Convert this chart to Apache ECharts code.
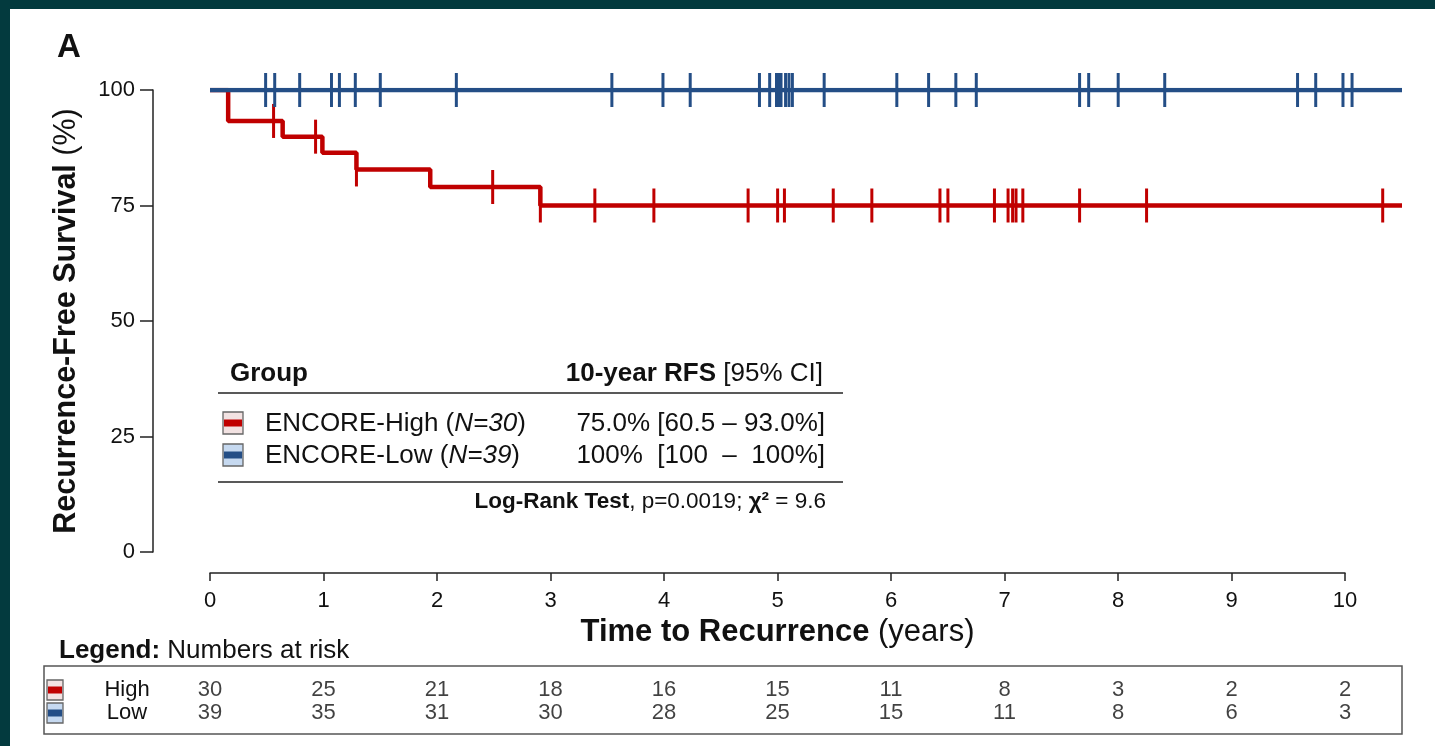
<!DOCTYPE html>
<html>
<head>
<meta charset="utf-8">
<script src="https://cdn.jsdelivr.net/npm/echarts@6/dist/echarts.min.js"></script>
<style>
  html, body { margin: 0; padding: 0; background: #fff; }
  #chart { width: 1435px; height: 746px; }
</style>
</head>
<body>
<div id="chart"></div>
<script>
var FONT = '"Liberation Sans", Arial, sans-serif';
var RED = '#C00000';
var BLUE = '#244E86';

// Kaplan-Meier steps: time (years) and survival (%) after that time
var highTimes = [0, 0.16, 0.64, 0.99, 1.29, 1.94, 2.91, 10.5];
var highSurv = [100, 93.3, 89.9, 86.4, 82.8, 79.0, 75.0, 75.0];
var lowTimes = [0, 10.5];
var lowSurv = [100, 100];

// censored observations (years)
var highCensor = [0.56, 0.93, 1.29, 2.49, 2.91, 3.39, 3.91, 4.74, 5.00, 5.06, 5.49, 5.83,
  6.43, 6.50, 6.91, 7.03, 7.07, 7.10, 7.16, 7.66, 8.25, 10.33];
var lowCensor = [0.49, 0.57, 0.79, 1.07, 1.14, 1.28, 1.50, 2.17, 3.54, 3.99, 4.23, 4.84,
  4.93, 4.99, 5.01, 5.03, 5.07, 5.10, 5.13, 5.41, 6.05, 6.33, 6.57, 6.75, 7.66, 7.74,
  8.00, 8.41, 9.58, 9.74, 9.98, 10.06];

// numbers at risk
var riskTimes = [0, 1, 2, 3, 4, 5, 6, 7, 8, 9, 10];
var riskHigh = [30, 25, 21, 18, 16, 15, 11, 8, 3, 2, 2];
var riskLow = [39, 35, 31, 30, 28, 25, 15, 11, 8, 6, 3];

var yTicks = [0, 25, 50, 75, 100];

function stepData(times, surv) {
  return times.map(function (t, i) { return [t, surv[i]]; });
}

function survAt(times, surv, t) {
  var v = surv[0];
  for (var i = 0; i < times.length; i++) {
    if (times[i] <= t) v = surv[i];
  }
  return v;
}

function censorData(cens, times, surv) {
  return cens.map(function (t) { return [t, survAt(times, surv, t)]; });
}

function riskData(vals, row) {
  return vals.map(function (n, i) { return [riskTimes[i], row, n]; });
}

// legend icon: light box with a dark band through the middle
function icon(x, y, w, h, light, dark) {
  return [
    { type: 'rect', shape: { x: x, y: y, width: w, height: h },
      style: { fill: light, stroke: '#666', lineWidth: 1.3 } },
    { type: 'rect', shape: { x: x + 1, y: y + h / 2 - 3.5, width: w - 2, height: 7 },
      style: { fill: dark } }
  ];
}

var myChart = echarts.init(document.getElementById('chart'));

var txt = '#111';
var graphics = [
  { type: 'rect', shape: { x: 0, y: 0, width: 1435, height: 9 }, style: { fill: '#033A3E' } },
  { type: 'rect', shape: { x: 0, y: 0, width: 10, height: 746 }, style: { fill: '#033A3E' } },
  { type: 'text', x: 57, y: 48, style: { text: 'A', font: 'bold 33px ' + FONT, fill: txt, verticalAlign: 'middle' } },

  // table inside the plot
  { type: 'line', shape: { x1: 218, y1: 393, x2: 843, y2: 393 }, style: { stroke: '#222', lineWidth: 1.5 } },
  { type: 'line', shape: { x1: 218, y1: 482, x2: 843, y2: 482 }, style: { stroke: '#222', lineWidth: 1.5 } },
  { type: 'text', x: 230, y: 374, style: { text: 'Group', font: 'bold 26px ' + FONT, fill: txt, verticalAlign: 'middle' } },
  { type: 'text', x: 823, y: 374, style: {
      text: '{b|10-year RFS }{n|[95% CI]}', align: 'right', verticalAlign: 'middle',
      rich: { b: { font: 'bold 26px ' + FONT, fill: txt }, n: { font: '26px ' + FONT, fill: txt } } } },
  { type: 'text', x: 265, y: 424, style: {
      text: '{n|ENCORE-High (}{i|N=30}{n|)}', verticalAlign: 'middle',
      rich: { n: { font: '26px ' + FONT, fill: txt }, i: { font: 'italic 26px ' + FONT, fill: txt } } } },
  { type: 'text', x: 265, y: 456, style: {
      text: '{n|ENCORE-Low (}{i|N=39}{n|)}', verticalAlign: 'middle',
      rich: { n: { font: '26px ' + FONT, fill: txt }, i: { font: 'italic 26px ' + FONT, fill: txt } } } },
  { type: 'text', x: 825, y: 424, style: { text: '75.0% [60.5 \u2013 93.0%]', font: '26px ' + FONT, fill: txt, align: 'right', verticalAlign: 'middle' } },
  { type: 'text', x: 825, y: 456, style: { text: '100%  [100  \u2013  100%]', font: '26px ' + FONT, fill: txt, align: 'right', verticalAlign: 'middle' } },
  { type: 'text', x: 826, y: 502, style: {
      text: '{b|Log-Rank Test}{n|, p=0.0019; }{b|\u03c7\u00b2}{n| = 9.6}', align: 'right', verticalAlign: 'middle',
      rich: { b: { font: 'bold 22.5px ' + FONT, fill: txt }, n: { font: '22.5px ' + FONT, fill: txt } } } },

  // numbers at risk
  { type: 'text', x: 59, y: 651, style: {
      text: '{b|Legend: }{n|Numbers at risk}', verticalAlign: 'middle',
      rich: { b: { font: 'bold 26px ' + FONT, fill: txt }, n: { font: '26px ' + FONT, fill: txt } } } },
  { type: 'rect', shape: { x: 44, y: 666, width: 1358, height: 68 }, style: { fill: 'none', stroke: '#555', lineWidth: 1.5 } },
  { type: 'text', x: 127, y: 690, style: { text: 'High', font: '22px ' + FONT, fill: txt, align: 'center', verticalAlign: 'middle' } },
  { type: 'text', x: 127, y: 713, style: { text: 'Low', font: '22px ' + FONT, fill: txt, align: 'center', verticalAlign: 'middle' } }
];
graphics = graphics
  .concat(icon(223, 412, 20, 22, '#F2E2E2', RED))
  .concat(icon(223, 444, 20, 22, '#C6D9F0', BLUE))
  .concat(icon(47, 680, 16, 20, '#F2E2E2', RED))
  .concat(icon(47, 703, 16, 20, '#C6D9F0', BLUE));

var option = {
  backgroundColor: '#fff',
  animation: false,
  textStyle: { fontFamily: FONT },
  grid: [
    { left: 210, top: 90, width: 1192, height: 462, outerBoundsMode: 'none' },
    { left: 210, top: 90, width: 1135, height: 462, outerBoundsMode: 'none' },
    { left: 210, top: 690, width: 1135, height: 23, outerBoundsMode: 'none' }
  ],
  xAxis: [
    { gridIndex: 0, type: 'value', min: 0, max: 10.5, show: false },
    {
      gridIndex: 1, type: 'value', min: 0, max: 10, interval: 1, offset: 21,
      axisLine: { show: true, onZero: false, lineStyle: { color: '#222', width: 1.5 } },
      axisTick: { show: true, length: 8, lineStyle: { color: '#222', width: 1.5 } },
      axisLabel: { fontSize: 22, color: txt, margin: 17, fontFamily: FONT },
      splitLine: { show: false },
      name: '{b|Time to Recurrence }{n|(years)}',
      nameLocation: 'middle', nameGap: 36,
      nameTextStyle: {
        rich: {
          b: { fontSize: 31, fontWeight: 'bold', color: txt, fontFamily: FONT },
          n: { fontSize: 31, color: txt, fontFamily: FONT }
        }
      }
    },
    { gridIndex: 2, type: 'value', min: 0, max: 10, show: false }
  ],
  yAxis: [
    {
      gridIndex: 0, type: 'value', min: yTicks[0], max: yTicks[yTicks.length - 1], interval: 25, offset: 57,
      axisLine: { show: true, onZero: false, lineStyle: { color: '#222', width: 1.5 } },
      axisTick: { show: true, length: 13, lineStyle: { color: '#222', width: 1.5 } },
      axisLabel: { fontSize: 22, color: txt, margin: 18, fontFamily: FONT },
      splitLine: { show: false },
      name: '{b|Recurrence-Free Survival }{n|(%)}',
      nameLocation: 'middle', nameRotate: 90, nameGap: 71,
      nameTextStyle: {
        rich: {
          b: { fontSize: 30.5, fontWeight: 'bold', color: txt, fontFamily: FONT },
          n: { fontSize: 30.5, color: txt, fontFamily: FONT }
        }
      }
    },
    { gridIndex: 1, type: 'value', min: 0, max: 100, show: false },
    { gridIndex: 2, type: 'value', min: 0, max: 1, show: false }
  ],
  graphic: graphics,
  series: [
    {
      name: 'ENCORE-High', type: 'line', step: 'end', xAxisIndex: 0, yAxisIndex: 0,
      data: stepData(highTimes, highSurv), symbol: 'none', z: 3,
      lineStyle: { color: RED, width: 4.5 }
    },
    {
      name: 'ENCORE-Low', type: 'line', step: 'end', xAxisIndex: 0, yAxisIndex: 0,
      data: stepData(lowTimes, lowSurv), symbol: 'none', z: 4,
      lineStyle: { color: BLUE, width: 4.5 }
    },
    {
      name: 'High censored', type: 'scatter', xAxisIndex: 0, yAxisIndex: 0,
      data: censorData(highCensor, highTimes, highSurv),
      symbol: 'rect', symbolSize: [3, 34], itemStyle: { color: RED, opacity: 1 }, z: 3
    },
    {
      name: 'Low censored', type: 'scatter', xAxisIndex: 0, yAxisIndex: 0,
      data: censorData(lowCensor, lowTimes, lowSurv),
      symbol: 'rect', symbolSize: [3, 34], itemStyle: { color: BLUE, opacity: 1 }, z: 4
    },
    {
      name: 'risk High', type: 'scatter', xAxisIndex: 2, yAxisIndex: 2,
      data: riskData(riskHigh, 1), symbolSize: 1, itemStyle: { color: 'rgba(0,0,0,0)' },
      label: { show: true, position: 'inside', formatter: function (p) { return p.value[2]; },
        fontSize: 22, color: txt, fontFamily: FONT }
    },
    {
      name: 'risk Low', type: 'scatter', xAxisIndex: 2, yAxisIndex: 2,
      data: riskData(riskLow, 0), symbolSize: 1, itemStyle: { color: 'rgba(0,0,0,0)' },
      label: { show: true, position: 'inside', formatter: function (p) { return p.value[2]; },
        fontSize: 22, color: txt, fontFamily: FONT }
    }
  ]
};

myChart.setOption(option);
</script>
</body>
</html>
